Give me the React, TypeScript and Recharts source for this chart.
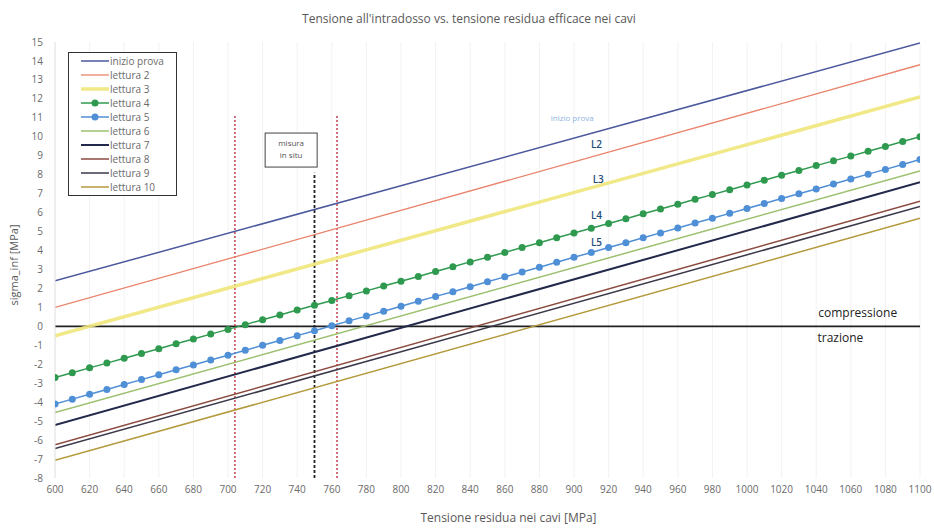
import React from 'react';
import {
  LineChart,
  Line,
  XAxis,
  YAxis,
  CartesianGrid,
  ReferenceLine,
  ReferenceDot,
  Legend,
  Label,
} from 'recharts';

// ---- data ----
const xTicks = [600, 620, 640, 660, 680, 700, 720, 740, 760, 780, 800, 820, 840, 860, 880, 900, 920, 940, 960, 980, 1000, 1020, 1040, 1060, 1080, 1100];
const yTicks = [-8, -7, -6, -5, -4, -3, -2, -1, 0, 1, 2, 3, 4, 5, 6, 7, 8, 9, 10, 11, 12, 13, 14, 15];

const xEnds = [600, 1100];
const inizioProva = [2.4, 14.95];
const lettura2 = [1.0, 13.8];
const lettura3 = [-0.5, 12.1];
const lettura6 = [-4.55, 8.2];
const lettura7 = [-5.2, 7.6];
const lettura8 = [-6.25, 6.6];
const lettura9 = [-6.45, 6.33];
const lettura10 = [-7.07, 5.7];

const markerX = [600, 610, 620, 630, 640, 650, 660, 670, 680, 690, 700, 710, 720, 730, 740, 750, 760, 770, 780, 790, 800, 810, 820, 830, 840, 850, 860, 870, 880, 890, 900, 910, 920, 930, 940, 950, 960, 970, 980, 990, 1000, 1010, 1020, 1030, 1040, 1050, 1060, 1070, 1080, 1090, 1100];
const lettura4 = [-2.7, -2.45, -2.19, -1.94, -1.68, -1.43, -1.18, -0.92, -0.67, -0.41, -0.16, 0.09, 0.35, 0.6, 0.86, 1.11, 1.36, 1.62, 1.87, 2.13, 2.38, 2.63, 2.89, 3.14, 3.4, 3.65, 3.9, 4.16, 4.41, 4.67, 4.92, 5.17, 5.43, 5.68, 5.94, 6.19, 6.44, 6.7, 6.95, 7.21, 7.46, 7.71, 7.97, 8.22, 8.48, 8.73, 8.98, 9.24, 9.49, 9.75, 10.0];
const lettura5 = [-4.1, -3.84, -3.58, -3.33, -3.07, -2.81, -2.55, -2.29, -2.04, -1.78, -1.52, -1.26, -1.0, -0.75, -0.49, -0.23, 0.03, 0.29, 0.54, 0.8, 1.06, 1.32, 1.58, 1.83, 2.09, 2.35, 2.61, 2.87, 3.12, 3.38, 3.64, 3.9, 4.16, 4.41, 4.67, 4.93, 5.19, 5.45, 5.7, 5.96, 6.22, 6.48, 6.74, 6.99, 7.25, 7.51, 7.77, 8.03, 8.28, 8.54, 8.8];

const limitX = [704, 763];
const limitTop = 11.2;
const misuraX = 750;
const misuraTop = 8.1;

const pairs = (xs: number[], ys: number[]) => xs.map((x, i) => ({ x, y: ys[i] }));

type S = { name: string; data: { x: number; y: number }[]; color: string; width: number; dot?: boolean; opacity?: number };

const series: S[] = [
  { name: 'inizio prova', data: pairs(xEnds, inizioProva), color: '#4b589d', width: 1.5 },
  { name: 'lettura 2', data: pairs(xEnds, lettura2), color: '#e9846c', width: 1.3 },
  { name: 'lettura 3', data: pairs(xEnds, lettura3), color: '#f0e67a', width: 3.5, opacity: 0.9 },
  { name: 'lettura 4', data: pairs(markerX, lettura4), color: '#2f9a4f', width: 1.5, dot: true },
  { name: 'lettura 5', data: pairs(markerX, lettura5), color: '#4f8fd6', width: 1.5, dot: true },
  { name: 'lettura 6', data: pairs(xEnds, lettura6), color: '#9cc06f', width: 1.5 },
  { name: 'lettura 7', data: pairs(xEnds, lettura7), color: '#23294a', width: 2 },
  { name: 'lettura 8', data: pairs(xEnds, lettura8), color: '#8c4a3f', width: 1.5 },
  { name: 'lettura 9', data: pairs(xEnds, lettura9), color: '#3a3848', width: 1.5 },
  { name: 'lettura 10', data: pairs(xEnds, lettura10), color: '#b49a3c', width: 1.5 },
];

const seriesLabels = [
  { text: 'inizio prova', x: 899, y: 11.0, color: '#8eb4e3', size: 8, weight: 400 },
  { text: 'L2', x: 913, y: 9.6, color: '#1f4e79', size: 10, weight: 600 },
  { text: 'L3', x: 914, y: 7.75, color: '#1f4e79', size: 10, weight: 600 },
  { text: 'L4', x: 913, y: 5.85, color: '#1f4e79', size: 10, weight: 600 },
  { text: 'L5', x: 913, y: 4.4, color: '#1f4e79', size: 10, weight: 600 },
  { text: 'compressione', x: 1064, y: 0.72, color: '#222222', size: 12, weight: 400 },
  { text: 'trazione', x: 1054, y: -0.6, color: '#222222', size: 12, weight: 400 },
];

const FONT = '"Open Sans", "Liberation Sans", sans-serif';

const LegendBox = () => (
  <div
    style={{
      border: '1px solid #333',
      background: '#fff',
      width: 109,
      padding: '1px 0 1px 0',
      fontFamily: FONT,
      fontSize: 10,
      color: '#6a6a6a',
      boxSizing: 'border-box',
    }}
  >
    {series.map((s) => (
      <div key={s.name} style={{ display: 'flex', alignItems: 'center', height: 14, lineHeight: '14px' }}>
        <svg width={41} height={14} style={{ flex: 'none' }}>
          <line x1={12} x2={40} y1={7} y2={7} stroke={s.color} strokeWidth={s.width} strokeOpacity={s.opacity ?? 1} />
          {s.dot && <circle cx={26} cy={7} r={3.5} fill={s.color} />}
        </svg>
        <span>{s.name}</span>
      </div>
    ))}
  </div>
);

const MisuraBox = (props: any) => {
  const { cx, cy } = props;
  if (cx == null || cy == null) return null;
  return (
    <g>
      <rect x={cx - 26} y={cy - 17} width={52} height={34} fill="#fff" stroke="#444" strokeWidth={1} />
      <text x={cx} y={cy - 4} textAnchor="middle" fontSize={8} fill="#555" fontFamily={FONT}>misura</text>
      <text x={cx} y={cy + 8} textAnchor="middle" fontSize={8} fill="#555" fontFamily={FONT}>in situ</text>
    </g>
  );
};

const YLabel = (props: any) => {
  const vb = props.viewBox || {};
  const cx = 13;
  const cy = (vb.y ?? 42) + (vb.height ?? 436) / 2 + 5;
  return (
    <text x={cx} y={cy} transform={`rotate(-90 ${cx} ${cy})`} textAnchor="middle" dominantBaseline="central" fontSize={11} fill="#595959" fontFamily={FONT}>
      sigma_inf [MPa]
    </text>
  );
};

export default function App() {
  return (
    <div style={{ position: 'absolute', left: 0, top: 0, width: 934, height: 528, background: '#fff' }}>
      <div
        style={{
          position: 'absolute',
          left: 0,
          top: 10,
          width: 938,
          textAlign: 'center',
          fontFamily: FONT,
          fontSize: 12,
          color: '#595959',
        }}
      >
        Tensione all'intradosso vs. tensione residua efficace nei cavi
      </div>
      <LineChart width={934} height={528} margin={{ top: 42, right: 14, left: 0, bottom: 0 }}>
        <CartesianGrid horizontal={false} stroke="#f2f2f2" />
        <XAxis
          type="number"
          dataKey="x"
          domain={[600, 1100]}
          ticks={xTicks}
          interval={0}
          allowDataOverflow
          axisLine={false}
          tickLine={false}
          height={50}
          tick={{ fontSize: 10, fill: '#6a6a6a', fontFamily: FONT }}
        >
          <Label value="Tensione residua nei cavi [MPa]" position="insideBottom" offset={6} dx={21} fontSize={12} fill="#595959" fontFamily={FONT} />
        </XAxis>
        <YAxis
          type="number"
          domain={[-8, 15]}
          ticks={yTicks}
          interval={0}
          allowDataOverflow
          width={55}
          axisLine={{ stroke: '#e4e4e4' }}
          tickLine={false}
          tickMargin={6}
          tick={{ fontSize: 10, fill: '#6a6a6a', fontFamily: FONT }}
        >
          <Label content={<YLabel />} />
        </YAxis>
        <ReferenceLine y={0} stroke="#222" strokeWidth={1.6} />
        {limitX.map((lx) => (
          <ReferenceLine
            key={lx}
            segment={[{ x: lx, y: -8 }, { x: lx, y: limitTop }]}
            stroke="#c0404f"
            strokeWidth={1.5}
            strokeDasharray="2 2"
          />
        ))}
        <ReferenceLine
          segment={[{ x: misuraX, y: -8 }, { x: misuraX, y: misuraTop }]}
          stroke="#222"
          strokeWidth={1.8}
          strokeDasharray="3 2"
        />
        {series.map((s) => (
          <Line
            key={s.name}
            data={s.data}
            dataKey="y"
            name={s.name}
            stroke={s.color}
            strokeWidth={s.width}
            strokeOpacity={s.opacity ?? 1}
            dot={s.dot ? { r: 3.5, fill: s.color, stroke: s.color, strokeWidth: 0 } : false}
            activeDot={false}
            isAnimationActive={false}
          />
        ))}
        {seriesLabels.map((l) => (
          <ReferenceDot
            key={l.text}
            x={l.x}
            y={l.y}
            r={0}
            fill="none"
            stroke="none"
            label={{ value: l.text, position: 'center', fill: l.color, fontSize: l.size, fontWeight: l.weight, fontFamily: FONT }}
          />
        ))}
        <ReferenceDot x={736.5} y={9.3} r={0} shape={<MisuraBox />} />
        <Legend
          layout="vertical"
          align="center"
          verticalAlign="middle"
          content={<LegendBox />}
          wrapperStyle={{ position: 'absolute', left: 68, top: 52, width: 'auto', height: 'auto' }}
        />
      </LineChart>
    </div>
  );
}
